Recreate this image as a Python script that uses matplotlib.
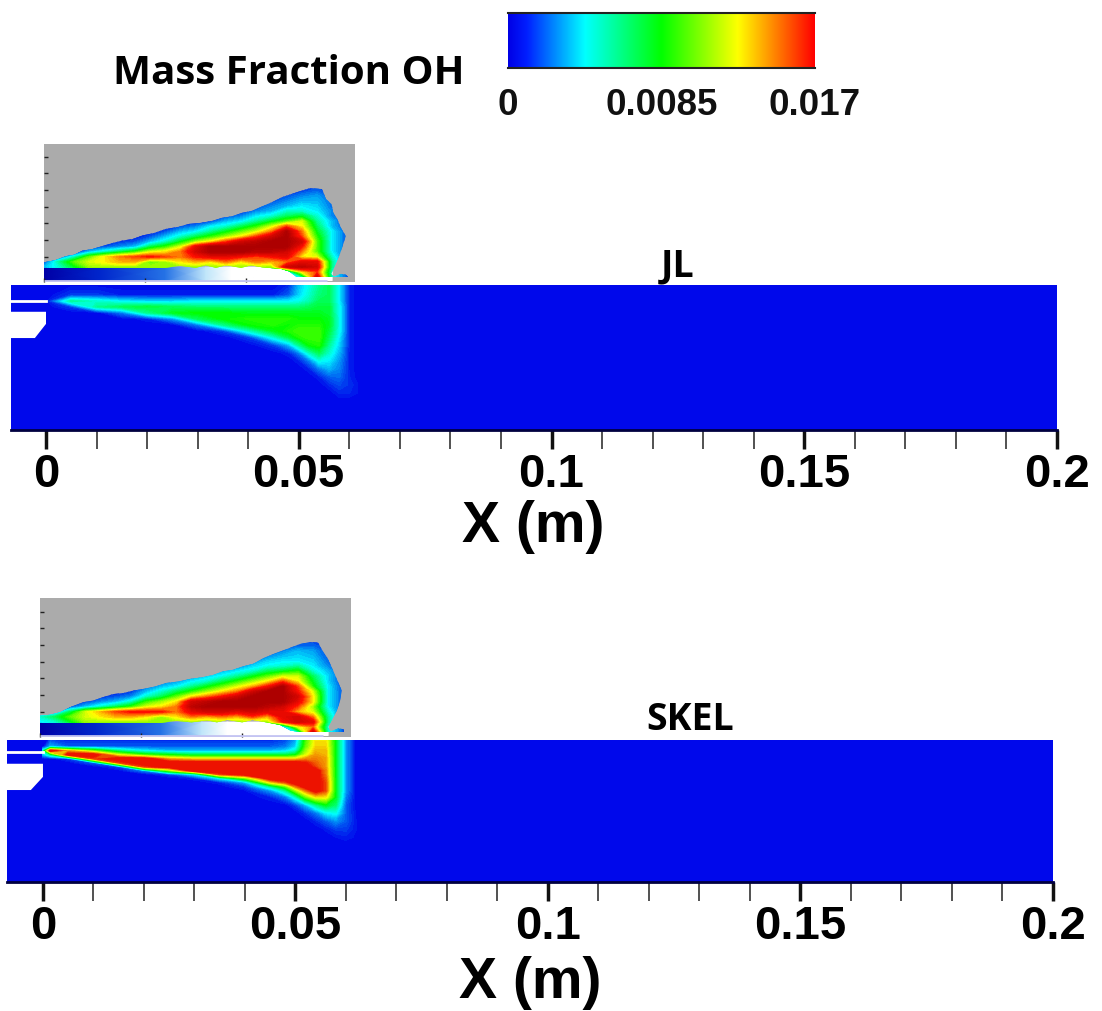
import numpy as np
import matplotlib
matplotlib.use("Agg")
import matplotlib.pyplot as plt
from matplotlib.colors import LinearSegmentedColormap
from matplotlib.patches import Polygon

W, H = 1102, 1012

# colorbar
bar_ticks = [0, 0.0085, 0.017]
bar_labels = ["0", "0.0085", "0.017"]

# x axis
x_major = [0, 0.05, 0.1, 0.15, 0.2]
x_major_labels = ["0", "0.05", "0.1", "0.15", "0.2"]
x_minor = [i / 100 for i in range(0, 21)]

# simulation stations: x in m, y in mm above the bottom of the panel
jl_x = [0, .005, .01, .015, .02, .025, .03, .035, .04, .045, .048, .05, .052, .054, .056, .058, .06, .062]
jl_y = [29, 26.7, 25.5, 24.4, 23.2, 22.0, 20.8, 19.6, 18.4, 16.8, 15.2, 13.7, 12.1, 10.5, 8.9, 7.3, 5.7]

# OH mass fraction x 1000, JL simulation
jl_sim = [
    [0, 0, 0, 0, 0, 0, 0, 0, 0, 0, .5, 3, 4.5, 6, 7, 4, .5, 0],
    [0, 1, 1, .5, .5, .5, .5, .5, .5, .5, 1.5, 3.5, 5, 6.5, 7, 4, .5, 0],
    [0, 6, 5, 4, 3.5, 3.5, 4, 4, 4, 4, 4, 4.5, 5.5, 7, 7, 4, .5, 0],
    [0, 1, 6, 7, 7.5, 7, 6.5, 6.5, 6.5, 6.5, 6.5, 6.5, 7, 7.5, 7.5, 4.5, .5, 0],
    [0, 0, 0, 2, 6, 8, 8.5, 8.5, 8, 8, 8, 8, 8, 8, 7.5, 4.5, .5, 0],
    [0, 0, 0, 0, .5, 2.5, 7, 8.5, 9, 9, 9, 8.5, 8.5, 8.5, 8, 4.5, .5, 0],
    [0, 0, 0, 0, 0, 0, 2, 6, 8.5, 9, 8.5, 9, 9, 9, 8, 4.5, .5, 0],
    [0, 0, 0, 0, 0, 0, 0, 1, 5, 8, 9, 9.5, 9.5, 9.5, 7.5, 4.5, .5, 0],
    [0, 0, 0, 0, 0, 0, 0, 0, 1, 5, 7.5, 9, 9.5, 9.5, 7, 4, .5, 0],
    [0, 0, 0, 0, 0, 0, 0, 0, 0, 1, 3, 6, 8.5, 9, 6, 3.5, .5, 0],
    [0, 0, 0, 0, 0, 0, 0, 0, 0, 0, .5, 2, 5, 7, 5, 3, .5, 0],
    [0, 0, 0, 0, 0, 0, 0, 0, 0, 0, 0, .5, 2, 4.5, 4, 2.5, .5, 0],
    [0, 0, 0, 0, 0, 0, 0, 0, 0, 0, 0, 0, .5, 2, 3, 2.2, .5, 0],
    [0, 0, 0, 0, 0, 0, 0, 0, 0, 0, 0, 0, 0, .5, 1.5, 1.8, .6, 0],
    [0, 0, 0, 0, 0, 0, 0, 0, 0, 0, 0, 0, 0, 0, .6, 1.2, .8, .2],
    [0, 0, 0, 0, 0, 0, 0, 0, 0, 0, 0, 0, 0, 0, 0, .6, .6, .2],
    [0, 0, 0, 0, 0, 0, 0, 0, 0, 0, 0, 0, 0, 0, 0, 0, 0, 0],
]

# OH mass fraction x 1000, SKEL simulation (finer stations for the thin red band)
skel_x = [0, .0015, .005, .01, .015, .02, .025, .03, .035, .04, .045, .048, .05, .052, .054, .056, .058, .06, .062]
skel_y = [29, 26.8, 26.0, 25.2, 24.4, 23.6, 22.8, 22.0, 21.3, 20.5, 19.7, 18.9, 18.1, 16.8, 15.2, 13.7, 12.1, 10.5, 8.9, 7.3]
skel_sim = [
    [0, 0, 0, 0, 0, 0, 0, 0, 0, 0, 0, .5, 2, 9, 13, 13, 8, 2.5, 0],
    [0, 3, 1.5, 1.5, 1.5, 1.5, 1.5, 1.5, 1.5, 1.5, 1.5, 2, 3.5, 10, 13.5, 13.5, 8, 2.5, 0],
    [5, 18, 14, 10, 6, 4, 3, 3, 3, 3, 3, 3.5, 5, 11, 14, 14, 8, 2.5, 0],
    [3, 6, 18, 18, 12, 9, 8, 7, 7, 7, 7, 7, 8, 12, 14.5, 14, 8, 2.5, 0],
    [0, 0, 1, 16, 18, 18, 14, 13, 13, 13, 13, 13, 13, 14.5, 15, 14.5, 8, 2.5, 0],
    [0, 0, 0, 1.5, 16, 18, 18, 18, 18, 18, 18, 18, 18, 17, 15.5, 14.5, 8, 2.5, 0],
    [0, 0, 0, 0, 1, 16, 18, 18, 18, 18, 18, 18, 18, 18, 16, 14.5, 8, 2.5, 0],
    [0, 0, 0, 0, 0, 2, 10, 18, 18, 18, 18, 18, 18, 18, 18, 15, 8, 2.5, 0],
    [0, 0, 0, 0, 0, 0, 1, 4, 16, 18, 18, 18, 18, 18, 18, 15, 8, 2.5, 0],
    [0, 0, 0, 0, 0, 0, 0, .5, 4, 10, 18, 18, 18, 18, 18, 15.5, 8, 2.5, 0],
    [0, 0, 0, 0, 0, 0, 0, 0, .5, 3, 13, 16, 18, 18, 18, 16, 8, 2.5, 0],
    [0, 0, 0, 0, 0, 0, 0, 0, 0, 1, 6, 10, 15, 18, 18, 16, 8, 2.5, 0],
    [0, 0, 0, 0, 0, 0, 0, 0, 0, .2, 2.5, 6, 11, 15, 18, 16, 8, 2.5, 0],
    [0, 0, 0, 0, 0, 0, 0, 0, 0, 0, .5, 2, 5, 10, 13, 13, 8, 2, 0],
    [0, 0, 0, 0, 0, 0, 0, 0, 0, 0, 0, 0, 1, 3, 6, 8, 6.5, 1.5, 0],
    [0, 0, 0, 0, 0, 0, 0, 0, 0, 0, 0, 0, 0, .8, 2, 4, 4.5, 1.5, .2],
    [0, 0, 0, 0, 0, 0, 0, 0, 0, 0, 0, 0, 0, 0, .6, 1.5, 2.5, 1.5, .3],
    [0, 0, 0, 0, 0, 0, 0, 0, 0, 0, 0, 0, 0, 0, 0, .4, 1, 1, .3],
    [0, 0, 0, 0, 0, 0, 0, 0, 0, 0, 0, 0, 0, 0, 0, 0, .3, .5, .2],
    [0, 0, 0, 0, 0, 0, 0, 0, 0, 0, 0, 0, 0, 0, 0, 0, 0, 0, 0],
]

# measured flame stations
exp_x = [0, .003, .006, .009, .012, .015, .018, .021, .024, .027, .03, .033, .036, .039, .042, .045, .048, .051, .054, .057, .06]
exp_y = [19, 18, 17, 16, 15, 14, 13, 12, 11, 10, 9, 8, 7, 6, 5, 4, 3, 2, 1]

exp_jl = [
    [0, 0, 0, 0, 0, 0, 0, 0, 0, 0, 0, 0, 0, 0, 0, 0, 0, .5, .8, 0, 0],
    [0, 0, 0, 0, 0, 0, 0, 0, 0, 0, 0, 0, 0, 0, 0, 0, 0, .8, 1.5, .5, 0],
    [0, 0, 0, 0, 0, 0, 0, 0, 0, 0, 0, 0, 0, 0, 0, 0, 1, 2, 2.5, 1, 0],
    [0, 0, 0, 0, 0, 0, 0, 0, 0, 0, 0, 0, 0, 0, 0, 1, 2, 3, 3, 1.5, 0],
    [0, 0, 0, 0, 0, 0, 0, 0, 0, 0, 0, 0, 0, 0, 1, 2, 3, 4, 3.5, 1.5, .3],
    [0, 0, 0, 0, 0, 0, 0, 0, 0, 0, 0, 0, 0, .5, 2, 3, 5, 5, 4, 2, .5],
    [0, 0, 0, 0, 0, 0, 0, 0, 0, 0, 0, 0, 1, 2, 4, 5, 7, 8, 5, 2, .5],
    [0, 0, 0, 0, 0, 0, 0, 0, 0, 0, 0, 1, 3, 4, 6, 8, 10, 12, 6, 3, .5],
    [0, 0, 0, 0, 0, 0, 0, 0, 0, 1, 2, 4, 5, 7, 9, 12, 16, 13, 7, 3, .7],
    [0, 0, 0, 0, 0, 0, 0, 0, 1, 3, 4, 6, 8, 10, 12, 15, 21, 15, 8, 4, 1],
    [0, 0, 0, 0, 0, 0, 0, 1, 3, 5, 7, 9, 11, 13, 16, 19, 21, 16, 9, 4, 1],
    [0, 0, 0, 0, 0, .5, 1, 3, 5, 8, 11, 13, 16, 19, 20, 21, 21, 19, 10, 4, 1],
    [0, 0, 0, .5, 1, 2, 3, 7, 9, 12, 18, 21, 21, 21, 21, 21, 21, 17, 10, 4, 1],
    [0, 0, 0, 3, 5, 7, 9, 12, 13, 15, 19, 21, 21, 21, 20, 20, 19, 15, 10, 4, 1],
    [0, 1, 5, 10, 13, 15, 16, 17, 16, 15, 17, 18, 18, 17, 16, 17, 18, 13, 12, 5, 1],
    [1, 6, 10, 12, 13, 14, 14, 10, 11, 13, 14, 13, 15, 13, 15, 14, 15, 18, 18, 6, 1],
    [3, 5, 8, 11, 11, 11, 11, 11, 11, 11, 11, 11, 11, 11, 11, 11, 19, 20, 19, 6, 1],
    [2, 3, 5, 9, 9, 9, 9, 9, 9, 9, 9, 9, 9, 9, 9, 5, 3, 13, 16, 5, 1],
    [0, 0, 0, 0, 0, 0, 0, 0, 0, 0, 0, 0, 0, 0, 0, 0, 1, 5, 19, 5, 1],
]

exp_skel = [
    [0, 0, 0, 0, 0, 0, 0, 0, 0, 0, 0, 0, 0, 0, 0, 0, 0, .6, .6, 0, 0],
    [0, 0, 0, 0, 0, 0, 0, 0, 0, 0, 0, 0, 0, 0, 0, 0, 1, 1.5, 1.5, .5, 0],
    [0, 0, 0, 0, 0, 0, 0, 0, 0, 0, 0, 0, 0, 0, 0, .8, 2, 3, 2.5, .8, 0],
    [0, 0, 0, 0, 0, 0, 0, 0, 0, 0, 0, 0, 0, 0, .7, 2, 3, 3.5, 3, 1, 0],
    [0, 0, 0, 0, 0, 0, 0, 0, 0, 0, 0, 0, 0, .7, 2, 3.5, 4, 4, 3.5, 1.5, .3],
    [0, 0, 0, 0, 0, 0, 0, 0, 0, 0, 0, 0, 1, 2, 3.5, 4.5, 5, 6, 4, 2, .5],
    [0, 0, 0, 0, 0, 0, 0, 0, 0, 0, .7, 2, 3, 4, 5, 7, 8, 9, 5, 3, .5],
    [0, 0, 0, 0, 0, 0, 0, 0, 0, 1, 2, 3.5, 4.5, 6, 8, 10, 12, 12, 7, 3.5, .5],
    [0, 0, 0, 0, 0, 0, 0, 0, 1.5, 2.5, 4, 5, 7, 9, 11, 13, 16, 13, 8, 3.5, .5],
    [0, 0, 0, 0, 0, 0, 0, 1.5, 3, 4, 6, 8, 10, 12, 14, 17, 21, 16, 9, 4, .7],
    [0, 0, 0, 0, 0, 0, .5, 3, 5, 7, 9, 11, 13, 15, 19, 21, 21, 17, 12, 4, 1],
    [0, 0, 0, 0, .5, 1, 2, 5, 7, 10, 13, 15, 17, 19, 21, 21, 21, 19, 13, 4, 1],
    [0, 0, 0, .8, 2, 3, 5, 9, 11, 13, 19, 20, 21, 21, 21, 21, 21, 18, 13, 4, 1],
    [0, 0, 1, 3, 5, 7, 9, 12, 13, 15, 20, 21, 21, 21, 21, 20, 19, 16, 11, 4, 1],
    [0, 2, 7, 12, 14, 16, 17, 17, 17, 15, 18, 19, 19, 18, 19, 18, 18, 14, 12, 5, 1],
    [5, 7, 10, 12, 13, 14, 14, 13, 11, 13, 15, 14, 15, 14, 16, 14, 18, 19, 15, 6, 1],
    [4, 5, 8, 11, 11, 11, 11, 11, 11, 11, 11, 11, 11, 11, 11, 11, 17, 19, 18, 6, 1],
    [2, 3, 5, 9, 9, 9, 9, 9, 9, 9, 9, 9, 9, 9, 9, 5, 2, 12, 15, 5, 1],
    [0, 0, 0, 0, 0, 0, 0, 0, 0, 0, 0, 0, 0, 0, 0, 0, 1, 5, 19, 5, 1],
]

# flame outlines
jl_out_x = [0, .0022, .0043, .006, .0076, .0095, .0115, .0135, .0155, .0175, .0194, .0218, .0241, .0265, .0287,
            .031, .0333, .0352, .0372, .0392, .0412, .0432, .0451, .0471, .0504, .0527, .055, .0558, .0569,
            .0572, .058, .0587, .0597, .059, .0584, .0574, .0568, .0574, .0587, .0597, .0607, .0607, .0537,
            .0501, .0485, .0469, .0432, .041, .039, .036, .034, .032, .03, .027, .024, .018, 0]
jl_out_y = [3.9, 4.3, 5.1, 5.4, 6.2, 6.5, 7.1, 7.7, 8.2, 8.5, 9.2, 9.7, 10.5, 10.9, 11.5,
            11.7, 12.1, 12.7, 13.0, 13.7, 14.1, 15.0, 15.8, 16.8, 17.9, 18.6, 18.4, 16.4, 15.4,
            13.8, 12.5, 10.8, 9.1, 6.9, 5.2, 2.9, 1.6, 1.05, 1.6, 1.45, .6, .3, .4,
            .9, 2.1, 2.6, 2.9, 3.3, 2.8, 3.3, 2.8, 3.3, 2.8, 3.2, 2.8, 2.8, 2.8]
skel_out_x = [0, .002, .004, .0062, .0086, .0105, .0125, .0145, .0165, .0185, .0204, .0228, .025, .0275, .0297,
              .032, .0343, .0362, .0382, .0402, .0422, .0442, .0461, .0488, .0514, .0534, .055, .0557, .057,
              .0577, .0587, .0597, .0593, .0587, .0577, .057, .0575, .059, .0603, .061, .061, .054, .0495,
              .0475, .0448, .042, .04, .037, .035, .033, .03, .027, .024, .018, 0]
skel_out_y = [4.2, 4.4, 4.9, 6.0, 6.9, 7.2, 7.9, 8.5, 8.7, 9.2, 9.5, 10.0, 10.7, 11.0, 11.5,
              11.8, 12.3, 13.0, 13.3, 14.0, 14.5, 15.6, 16.4, 17.4, 18.4, 18.8, 18.7, 17.4, 15.4,
              13.8, 11.5, 9.2, 6.9, 5.2, 3.3, 2.0, 1.1, 1.7, 1.5, .6, .3, .4, 1.3,
              2.4, 2.9, 3.4, 2.9, 3.4, 2.9, 3.3, 2.9, 3.2, 2.8, 2.8, 2.8]

# pale strip under the measured flame
fade_x = [0, .011, .024, .032, .037, .057]
fade_v = [0, .3, .6, .85, 1, 1]

rainbow = LinearSegmentedColormap.from_list("rainbow_oh", [
    (0, (0, 0, .9)), (.06, (0, .12, 1)), (.25, (0, 1, 1)), (.5, (0, 1, 0)),
    (.75, (1, 1, 0)), (1, (1, 0, 0))])
rainbow_sim = LinearSegmentedColormap.from_list("rainbow_sim", [
    (0, (0, 0, .92)), (.25, (0, 1, 1)), (.5, (0, 1, 0)),
    (.75, (.97, 1, 0)), (1, (.93, .07, 0))])
rainbow_exp = LinearSegmentedColormap.from_list("rainbow_exp", [
    (0, (0, .1, .9)), (.193, (0, 1, 1)), (.386, (0, 1, 0)), (.58, (1, 1, 0)),
    (.773, (1, .05, 0)), (.95, (.68, 0, 0)), (1, (.68, 0, 0))])
fade = LinearSegmentedColormap.from_list("fade", [
    (0, (0, 0, .65)), (.3, (0, .15, .8)), (.6, (.15, .45, .9)), (.85, (.75, .9, .98)), (1, (1, 1, 1))])

fig = plt.figure(figsize=(W / 100, H / 100), dpi=100)
plt.rcParams['font.family'] = ['Liberation Sans', 'DejaVu Sans']


def px_axes(left, top, right, bottom):
    return fig.add_axes([left / W, 1 - bottom / H, (right - left) / W, (bottom - top) / H])


def sim_panel(left, top, right, bottom, x0_px, xs, ys, table, y_top, plug, slit_y, xlabel_py):
    ax = px_axes(left, top, right, bottom)
    ax.set_facecolor(rainbow_sim(.5 / 59))
    xmin = (left - x0_px) / 5055
    xmax = (right - x0_px) / 5055
    ax.contourf(xs, ys, np.array(table) / 1000, levels=np.linspace(0, .017, 60),
                cmap=rainbow_sim, extend="max")
    ax.add_patch(Polygon([(xmin, plug[0]), (0, plug[0]), (0, plug[2]), (plug[3], plug[1]), (xmin, plug[1])],
                         fc="white", ec="none", zorder=3))
    ax.plot([xmin, 0], [slit_y, slit_y], color="white", lw=2, zorder=3)
    ax.set_xlim(xmin, xmax)
    ax.set_ylim(0, y_top)
    ax.set_yticks([])
    ax.set_xticks(x_major)
    ax.set_xticklabels(x_major_labels, fontsize=34, fontweight="bold")
    ax.set_xticks(x_minor, minor=True)
    ax.tick_params(axis="x", which="major", length=14, width=2.5, pad=2, color="#111111")
    ax.tick_params(axis="x", which="minor", length=14, width=1.2, color="#333333")
    for s in ["top", "left", "right"]:
        ax.spines[s].set_visible(False)
    ax.spines["bottom"].set_color("#000040")
    ax.spines["bottom"].set_linewidth(2)
    fig.text((x0_px + 487) / W, 1 - xlabel_py / H, "X (m)", fontsize=41, fontweight="bold",
             ha="center", va="center")
    return ax


def exp_panel(left, top, right, bottom, table, out_x, out_y):
    ax = px_axes(left, top, right, bottom)
    ax.set_facecolor("#ababab")
    ax.set_xlim(0, (right - left) / 5055)
    ax.set_ylim(0, (bottom - top) * .198)
    ax.pcolormesh(fade_x, [.3, 2.95], [fade_v, fade_v], shading="gouraud", cmap=fade, vmin=0, vmax=1)
    ax.plot([0, .056], [.15, .15], color="#c4c4f2", lw=2, solid_capstyle="butt")
    cs = ax.contourf(exp_x, exp_y, np.array(table) / 1000, levels=np.linspace(0, .022, 60),
                     cmap=rainbow_exp, extend="max")
    clip = Polygon(np.column_stack([out_x, out_y]), closed=True, transform=ax.transData,
                   fc="none", ec="none")
    ax.add_patch(clip)
    cs.set_clip_path(clip)
    ax.set_xticks([0, .02, .04])
    ax.set_xticklabels([])
    ax.set_yticks([5, 8.3, 11.6, 14.9, 18.2, 21.5, 24.8])
    ax.set_yticklabels([])
    ax.tick_params(axis="both", direction="in", length=3, width=1, color="#222222")
    for s in ax.spines.values():
        s.set_visible(False)
    return ax


exp_panel(44, 145, 355, 283, exp_jl, jl_out_x, jl_out_y)
exp_panel(40, 599, 351, 738, exp_skel, skel_out_x, skel_out_y)

sim_panel(11, 286, 1057, 431, 46, jl_x, jl_y, jl_sim, 28.7, (23.4, 18.2, 21.0, -.0022), 25.6, 527)
sim_panel(7, 741, 1053, 883, 43, skel_x, skel_y, skel_sim, 28.1, (23.4, 18.2, 20.8, -.0024), 25.7, 983)

fig.text(678 / W, 1 - 266 / H, "JL", fontsize=27, fontweight="bold", family="Open Sans", ha="center", va="center")
fig.text(690 / W, 1 - 720 / H, "SKEL", fontsize=27, fontweight="bold", family="Open Sans", ha="center", va="center")
fig.text(289 / W, 1 - 74 / H, "Mass Fraction OH", fontsize=29, fontweight="bold", family="Open Sans",
         ha="center", va="center")

# colorbar
cax = px_axes(508, 14, 815, 69)
grad = np.linspace(0, .017, 256).reshape(1, -1)
cax.imshow(grad, aspect="auto", cmap=rainbow, extent=[0, .017, 0, 1], vmin=0, vmax=.017)
cax.set_yticks([])
cax.set_xticks(bar_ticks)
cax.set_xticklabels(bar_labels, fontsize=26.5, fontweight="bold", color="#111111")
cax.tick_params(axis="x", length=0, pad=14)
for s in ["left", "right"]:
    cax.spines[s].set_visible(False)
for s in ["top", "bottom"]:
    cax.spines[s].set_linewidth(1.5)
    cax.spines[s].set_color("#222222")

fig.savefig("out.png", dpi=100)
